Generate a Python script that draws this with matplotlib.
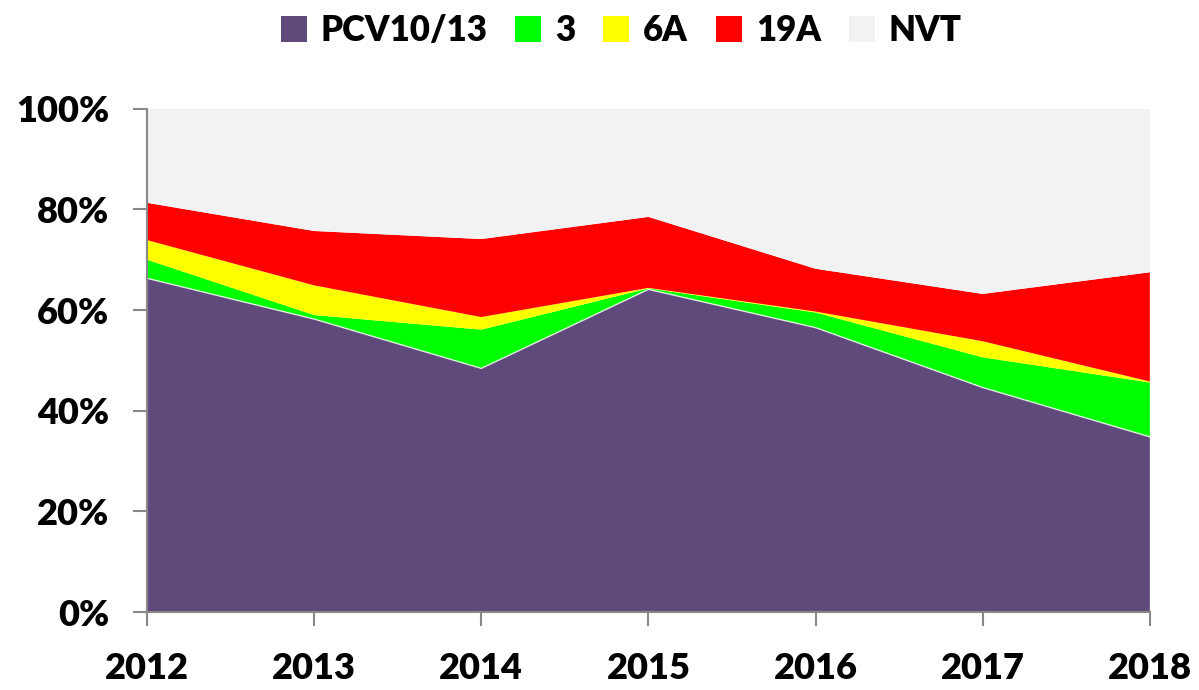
import matplotlib.pyplot as plt
from matplotlib.patches import Patch
from matplotlib.ticker import FuncFormatter

years = [2012, 2013, 2014, 2015, 2016, 2017, 2018]
pcv = [66.3, 58.2, 48.4, 64.1, 56.5, 44.6, 34.8]
st3 = [3.7, 0.8, 7.7, 0.2, 3.0, 6.0, 10.8]
st6a = [3.9, 5.9, 2.5, 0.1, 0.2, 3.2, 0.2]
st19a = [7.4, 10.8, 15.5, 14.1, 8.5, 9.4, 21.7]
nvt = [100 - a - b - c - d for a, b, c, d in zip(pcv, st3, st6a, st19a)]

labels = ["PCV10/13", "3", "6A", "19A", "NVT"]
colors = ["#604a7b", "#00ff00", "#ffff00", "#ff0000", "#f2f2f2"]

def main():
  plt.rcParams['font.family'] = ['Lato', 'DejaVu Sans']
  fig = plt.figure(figsize=(11.99, 6.90), dpi=100)
  ax = fig.add_axes([0.1226, 0.113, 0.8364, 0.7295])

  ax.stackplot(years, pcv, st3, st6a, st19a, nvt, colors=colors, linewidth=0)
  ax.plot(years, pcv, color="white", linewidth=1.0, alpha=0.8)

  ax.set_xlim(2012, 2018)
  ax.set_ylim(0, 100)
  ax.set_yticks([0, 20, 40, 60, 80, 100])
  ax.yaxis.set_major_formatter(FuncFormatter(lambda v, p: "%d%%" % v))
  ax.set_xticks(years)

  for s in ["top", "right"]:
    ax.spines[s].set_visible(False)
  for s in ["left", "bottom"]:
    ax.spines[s].set_color("#888888")
    ax.spines[s].set_linewidth(1.5)
  ax.tick_params(axis="both", direction="out", length=10, width=1.5, color="#888888",
                 labelsize=26)
  ax.tick_params(axis="y", pad=17)
  ax.tick_params(axis="x", pad=19)
  for lbl in ax.get_xticklabels() + ax.get_yticklabels():
    lbl.set_fontweight("heavy")

  handles = [Patch(facecolor=c, edgecolor="none") for c in colors]
  fig.legend(handles, labels, loc="upper center", bbox_to_anchor=(0.518, 1.025), ncol=5,
             frameon=False, prop={"size": 25, "weight": "heavy"}, handlelength=0.75,
             handleheight=0.75, handletextpad=0.4, columnspacing=0.8)

  fig.savefig("out.png", dpi=100)

if __name__ == "__main__":
  main()
